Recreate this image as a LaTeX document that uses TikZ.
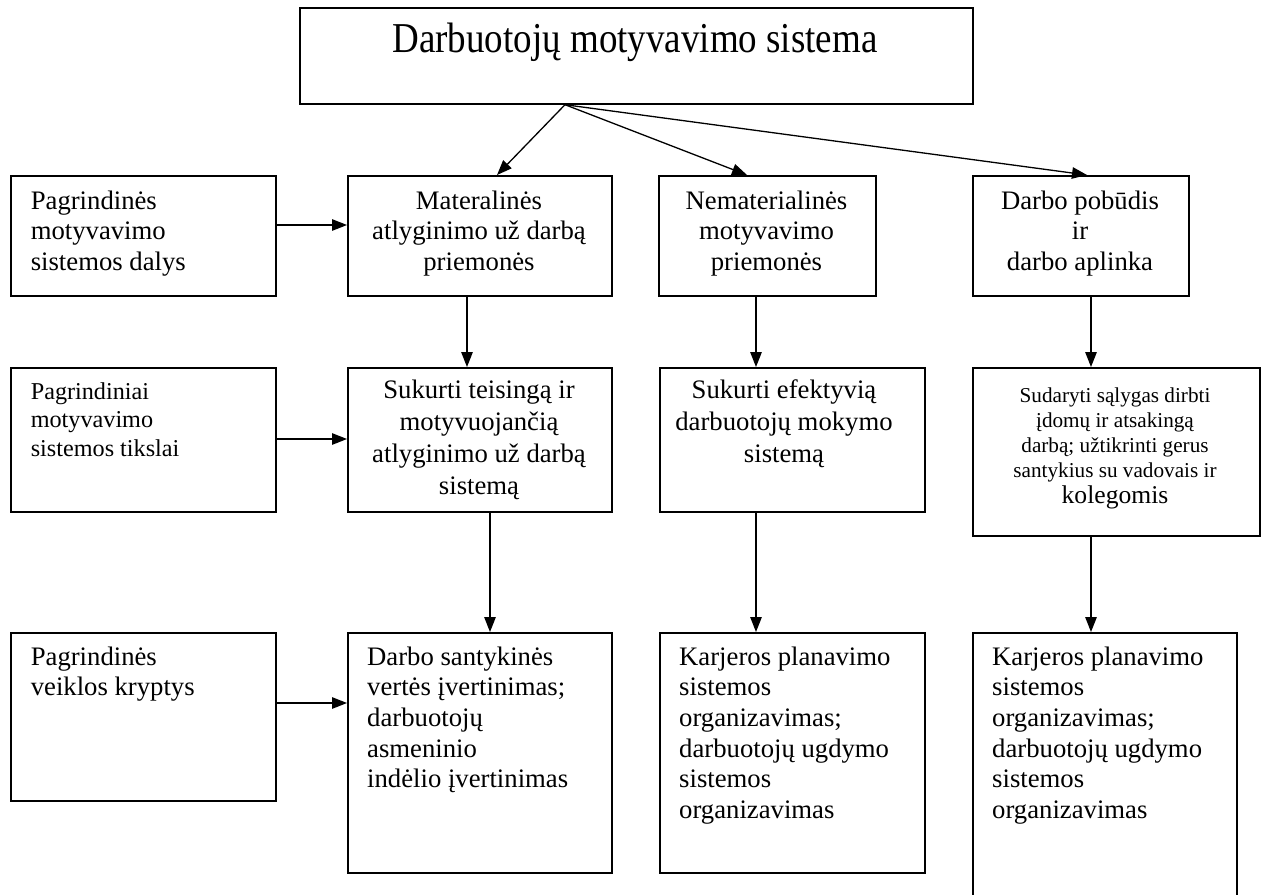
\documentclass[tikz,border=0pt]{standalone}
\usepackage{fontspec}
\usepackage{graphicx}
\setmainfont{Liberation Serif}
\usetikzlibrary{arrows.meta,calc}
\tikzset{
  box/.style={draw, line width=1.7pt, inner sep=0pt, anchor=north west},
  arr/.style={line width=1.3pt, -{Triangle[length=15pt,width=11.5pt]}},
  ctext/.style={anchor=base, align=center, inner sep=0pt, font=\fontsize{26.7}{30.7}\selectfont},
  ltext/.style={anchor=base west, align=left, inner sep=0pt, font=\fontsize{26.7}{30.7}\selectfont},
}
\begin{document}
\begin{tikzpicture}[x=1pt,y=-1pt]
\useasboundingbox (0,0) rectangle (1266,894);
% boxes
\node[box, minimum width=673pt, minimum height=96pt] (top) at (299,7) {};
\node[box, minimum width=265pt, minimum height=120pt] (l1) at (10,175) {};
\node[box, minimum width=264pt, minimum height=120pt] (m1) at (347,175) {};
\node[box, minimum width=217pt, minimum height=120pt] (n1) at (658,175) {};
\node[box, minimum width=216pt, minimum height=120pt] (d1) at (972,175) {};
\node[box, minimum width=265pt, minimum height=144pt] (l2) at (10,367) {};
\node[box, minimum width=264pt, minimum height=144pt] (m2) at (347,367) {};
\node[box, minimum width=265pt, minimum height=144pt] (n2) at (659,367) {};
\node[box, minimum width=287pt, minimum height=168pt] (d2) at (972,367) {};
\node[box, minimum width=265pt, minimum height=168pt] (l3) at (10,632) {};
\node[box, minimum width=264pt, minimum height=240pt] (m3) at (347,632) {};
\node[box, minimum width=265pt, minimum height=240pt] (n3) at (659,632) {};
\node[box, minimum width=264pt, minimum height=266pt] (d3) at (972,632) {};
% texts (anchor = baseline of the last line)
\node[ctext, font=\fontsize{37}{42}\selectfont] (ttop) at (635,52) {\scalebox{1}[1.15]{Darbuotojų motyvavimo sistema}};
\node[ltext] (tl1) at (30.6,270.4) {Pagrindinės\\motyvavimo\\sistemos dalys};
\node[ctext] (tm1) at (479,270.4) {Materalinės\\atlyginimo už darbą\\priemonės};
\node[ctext] (tn1) at (766.5,270.4) {Nematerialinės\\motyvavimo\\priemonės};
\node[ctext] (td1) at (1080,270.4) {Darbo pobūdis\\ir\\darbo aplinka};
\node[ltext, font=\fontsize{24.2}{28.5}\selectfont] (tl2) at (30.6,456) {Pagrindiniai\\motyvavimo\\sistemos tikslai};
\node[ctext, font=\fontsize{26.7}{32}\selectfont] (tm2) at (479,494) {Sukurti teisingą ir\\motyvuojančią\\atlyginimo už darbą\\sistemą};
\node[ctext, font=\fontsize{26.7}{32}\selectfont] (tn2) at (784,462) {Sukurti efektyvią\\darbuotojų mokymo\\sistemą};
\node[ctext, font=\fontsize{21.2}{25.2}\selectfont] (td2) at (1115,477.6) {Sudaryti sąlygas dirbti\\įdomų ir atsakingą\\darbą; užtikrinti gerus\\santykius su vadovais ir};
\node[ctext, font=\fontsize{25.6}{29}\selectfont] (td2b) at (1115,503) {kolegomis};
\node[ltext] (tl3) at (30.6,695.7) {Pagrindinės\\veiklos kryptys};
\node[ltext] (tm3) at (367,787.8) {Darbo santykinės\\vertės įvertinimas;\\darbuotojų\\asmeninio\\indėlio įvertinimas};
\node[ltext] (tn3) at (679,818.5) {Karjeros planavimo\\sistemos\\organizavimas;\\darbuotojų ugdymo\\sistemos\\organizavimas};
\node[ltext] (td3) at (992,818.5) {Karjeros planavimo\\sistemos\\organizavimas;\\darbuotojų ugdymo\\sistemos\\organizavimas};
% connectors
\coordinate (c0) at ($(top.south west)+(266,0)$);
\draw[arr] (c0) -- ($(m1.north west)+(150,0)$);
\draw[arr] (c0) -- ($(n1.north west)+(89,0)$);
\draw[arr] (c0) -- ($(d1.north west)+(115,0)$);
\draw[arr] ($(l1.north east)+(0,50)$) -- ($(m1.north west)+(0,50)$);
\draw[arr] ($(l2.north east)+(0,72)$) -- ($(m2.north west)+(0,72)$);
\draw[arr] ($(l3.north east)+(0,71)$) -- ($(m3.north west)+(0,71)$);
\draw[arr] ($(m1.south west)+(120,0)$) -- ($(m2.north west)+(120,0)$);
\draw[arr] ($(n1.south west)+(98,0)$) -- ($(n2.north west)+(97,0)$);
\draw[arr] ($(d1.south west)+(119,0)$) -- ($(d2.north west)+(119,0)$);
\draw[arr] ($(m2.south west)+(143,0)$) -- ($(m3.north west)+(143,0)$);
\draw[arr] ($(n2.south west)+(97,0)$) -- ($(n3.north west)+(97,0)$);
\draw[arr] ($(d2.south west)+(119,0)$) -- ($(d3.north west)+(119,0)$);
\end{tikzpicture}
\end{document}
